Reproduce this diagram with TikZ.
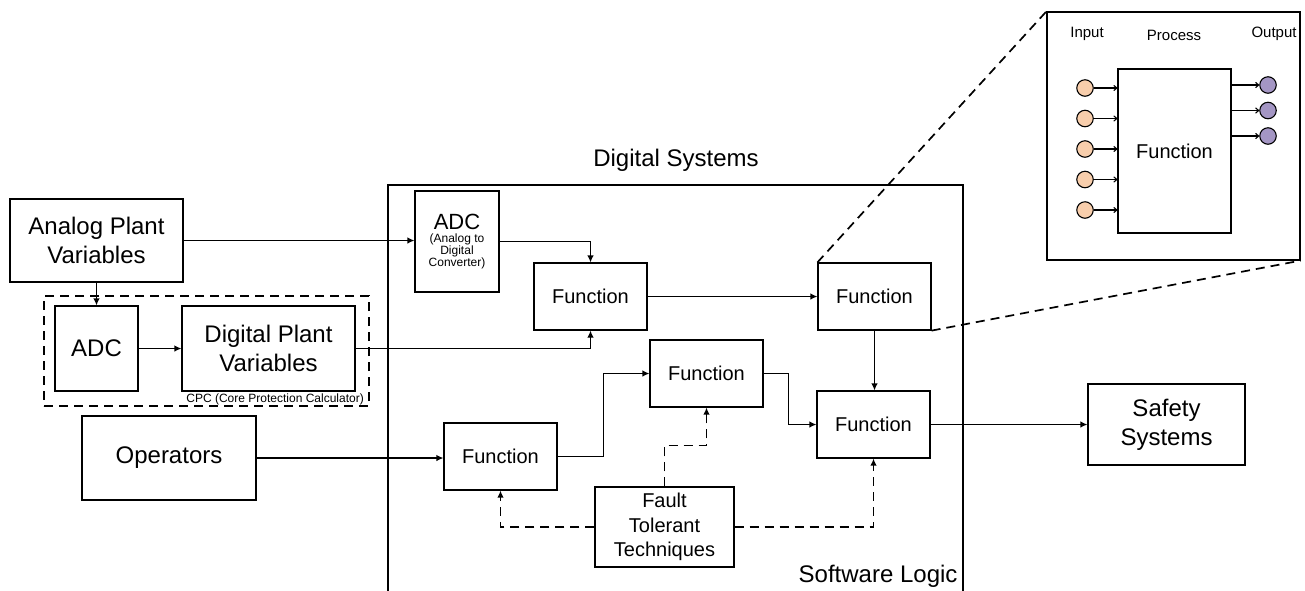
\documentclass[tikz,border=0pt]{standalone}
\usepackage{fontspec}
\setmainfont{Liberation Sans}
\usetikzlibrary{arrows.meta}
\definecolor{inpeach}{RGB}{248,206,172}
\definecolor{outpurple}{RGB}{164,150,196}
\tikzset{
  blk/.style={draw,line width=1.2pt,inner sep=1pt,align=center},
  big/.style={font=\fontsize{24}{29}\selectfont},
  fnc/.style={blk,minimum width=113pt,minimum height=67pt,font=\fontsize{20}{24}\selectfont},
  arr/.style={line width=1.2pt,-{Latex[length=7pt,width=6.5pt]}},
  dsh/.style={line width=1.7pt,dash pattern=on 9pt off 6pt},
  dsharr/.style={dsh,-{Latex[length=7pt,width=6.5pt]}},
  inarr/.style={line width=1.1pt,-{To[length=4pt,width=6pt]}},
  dot/.style={circle,draw,line width=1.1pt,minimum size=16.5pt,inner sep=0pt}
}
\begin{document}
\begin{tikzpicture}[x=1pt,y=-1pt]
\useasboundingbox (0,0) rectangle (1305,590);

% plant side
\node[blk,big,minimum width=173pt,minimum height=83pt] (analog) at (96.5,240.5) {Analog Plant\\Variables};
\node[blk,big,minimum width=83pt,minimum height=85pt] (adcl) at (96.5,348.5) {ADC};
\node[blk,big,minimum width=173pt,minimum height=85pt] (digital) at (268.5,348.5) {Digital Plant\\Variables};
\node[dsh,draw,minimum width=325pt,minimum height=110pt] (cpc) at (206.5,351) {};
\node[anchor=east,inner sep=0pt,font=\fontsize{12}{14}\selectfont] (cpclab) at (364,399) {CPC (Core Protection Calculator)};
\node[blk,big,minimum width=174pt,minimum height=84pt] (operators) at (169,458) {Operators};

% digital systems
\draw[line width=1.2pt] (388,592) -- (388,185) -- (963,185) -- (963,592);
\node[big] (dslab) at (676,160) {Digital Systems};
\node[big,anchor=east] (swlab) at (961,576) {Software Logic};

\node[blk,minimum width=84pt,minimum height=101pt] (adcd) at (457,241.5) {{\fontsize{22}{24}\selectfont ADC}\\[1pt]{\fontsize{12}{14.5}\selectfont (Analog to}\\{\fontsize{12}{14.5}\selectfont Digital}\\{\fontsize{12}{14.5}\selectfont Converter)}};
\node[fnc] (f1) at (590.5,296.5) {Function};
\node[fnc] (f2) at (874.5,296.5) {Function};
\node[fnc] (f3) at (500.5,456.5) {Function};
\node[fnc] (f4) at (706.5,373.5) {Function};
\node[fnc] (f5) at (873.5,424.5) {Function};
\node[blk,minimum width=139pt,minimum height=80pt,font=\fontsize{20}{24.5}\selectfont] (fault) at (664.5,527) {Fault\\Tolerant\\Techniques};
\node[blk,big,minimum width=157pt,minimum height=81pt] (safety) at (1166.5,424.5) {Safety\\Systems};

\draw[arr] (analog.east) -- (analog.east -| adcd.west);
\draw[arr] (analog) -- (adcl);
\draw[arr] (adcl) -- (digital);
\draw[arr] (adcd.east) -| (f1.north);
\draw[arr] (digital.east) -| (f1.south);
\draw[arr] (f1) -- (f2);
\draw[arr] (f2.south) -- (f2.south |- f5.north);
\draw[arr] (operators.east) -- (operators.east -| f3.west);
\draw[arr] (f3.east) -- ++(46,0) |- (f4.west);
\draw[arr] (f4.east) -- ++(25,0) |- (f5.west);
\draw[arr] (f5) -- (safety);

\draw[dsharr] (fault.north) -- ++(0,-41) -| (f4.south);
\draw[dsharr] (fault.west) -| (f3.south);
\draw[dsharr] (fault.east) -| (f5.south);

% zoomed view
\node[blk,minimum width=253pt,minimum height=248pt] (inset) at (1173.5,136) {};
\draw[dsh] (f2.north west) -- (inset.north west);
\draw[dsh] (f2.south east) -- (inset.south east);

\node[font=\fontsize{15}{17}\selectfont] (inlab) at (1087,34) {Input};
\node[font=\fontsize{15}{17}\selectfont] (proclab) at (1174,35) {Process};
\node[font=\fontsize{15}{17}\selectfont] (outlab) at (1274,34) {Output};
\node[blk,minimum width=113pt,minimum height=164pt,font=\fontsize{20}{24}\selectfont] (fn) at (1174.5,151) {Function};

\node[dot,fill=inpeach] (i1) at (1085,88) {};
\node[dot,fill=inpeach] (i2) at (1085,118.5) {};
\node[dot,fill=inpeach] (i3) at (1085,149) {};
\node[dot,fill=inpeach] (i4) at (1085,179.5) {};
\node[dot,fill=inpeach] (i5) at (1085,210) {};
\node[dot,fill=outpurple] (o1) at (1268,85) {};
\node[dot,fill=outpurple] (o2) at (1268,110.5) {};
\node[dot,fill=outpurple] (o3) at (1268,136) {};

\draw[inarr] (i1) -- (i1 -| fn.west);
\draw[inarr] (i2) -- (i2 -| fn.west);
\draw[inarr] (i3) -- (i3 -| fn.west);
\draw[inarr] (i4) -- (i4 -| fn.west);
\draw[inarr] (i5) -- (i5 -| fn.west);
\draw[inarr] (o1 -| fn.east) -- (o1);
\draw[inarr] (o2 -| fn.east) -- (o2);
\draw[inarr] (o3 -| fn.east) -- (o3);
\end{tikzpicture}
\end{document}
